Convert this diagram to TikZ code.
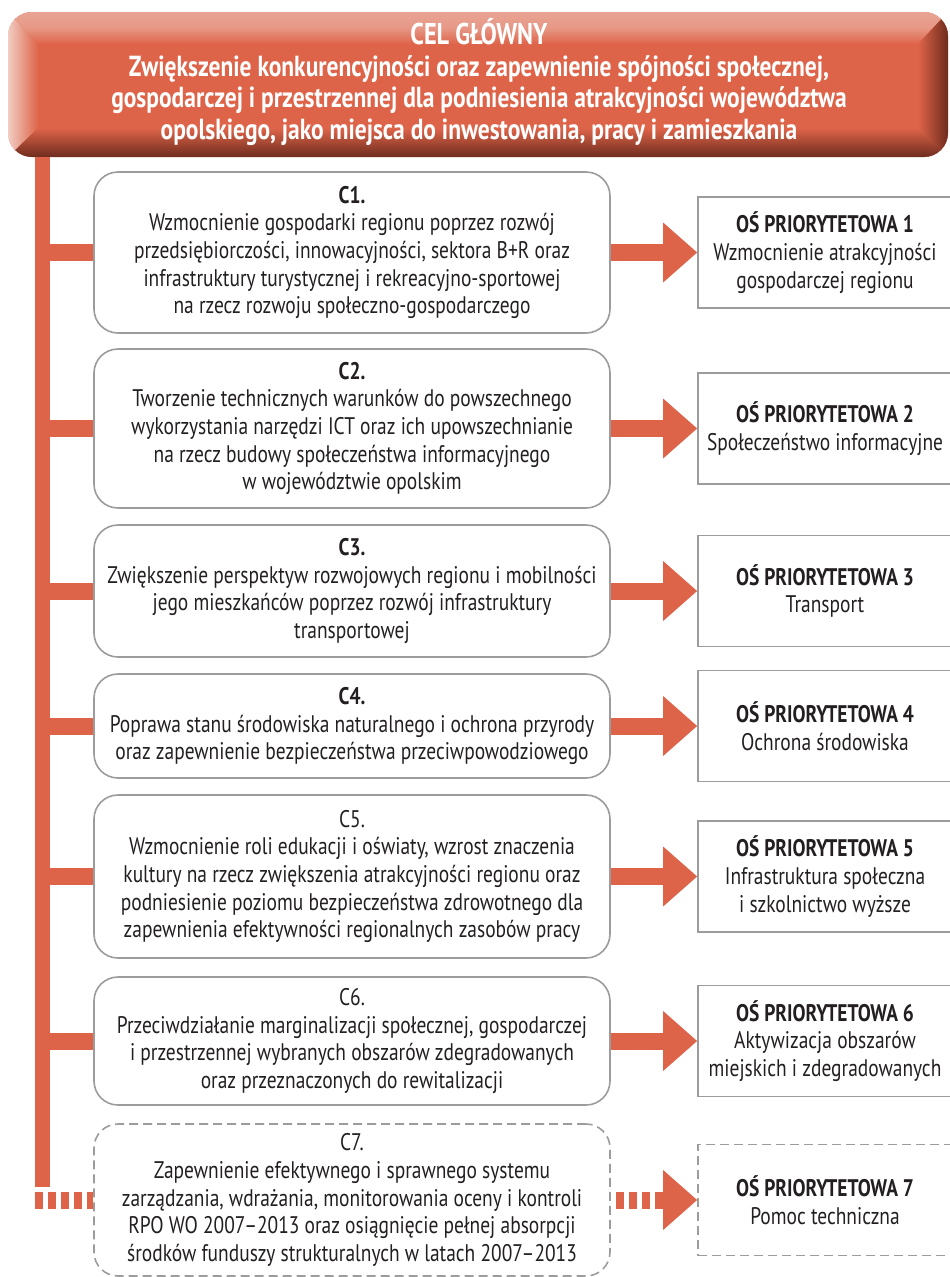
\documentclass[tikz,border=0pt]{standalone}
\usepackage{fontspec}
\setmainfont{PT Sans}[FakeStretch=0.81]
\usetikzlibrary{arrows.meta}

\definecolor{accent}{HTML}{DE6449}
\definecolor{accentlight}{HTML}{E9A494}
\definecolor{accentpale}{HTML}{F1CDC3}
\definecolor{accentdark}{HTML}{6E2C1E}
\definecolor{frame}{HTML}{9C9C9C}
\definecolor{ink}{HTML}{231F20}

\newcommand\bodysize{\fontsize{24}{27.6}\selectfont}
\newcommand\headsize{\fontsize{29}{31.5}\selectfont}

\tikzset{
  cbox/.style={draw=frame, line width=1.6pt, rounded corners=24pt, fill=white,
    minimum width=516pt, align=center, font=\bodysize, text=ink, inner sep=0pt},
  obox/.style={draw=frame, line width=1.8pt, fill=white, minimum width=254pt,
    minimum height=111pt, align=center, font=\bodysize, text=ink, inner sep=0pt},
  pending/.style={dash pattern=on 9pt off 5pt},
  link/.style={draw=accent, line width=17pt},
  gappy/.style={dash pattern=on 8.5pt off 4.5pt},
  feed/.style={draw=accent, line width=17pt,
    -{Triangle[length=34pt, width=60pt, line width=0pt]}},
}

\begin{document}
\begin{tikzpicture}[x=1pt, y=-1pt]
\useasboundingbox (0,0) rectangle (950,1277);
\fill[white] (0,0) rectangle (950,1277);

% main goal banner: bevelled button (light top and left, dark bottom and right)
\begin{scope}
  \clip[rounded corners=24pt] (8,12) rectangle (948,157);
  \fill[accent] (8,12) rectangle (948,157);
  \shade[left color=accentpale, right color=accent]
    (8,12) -- (38,44) -- (38,128) -- (8,157) -- cycle;
  \shade[top color=accentlight, bottom color=accent, middle color=accentlight!80!accent]
    (8,12) -- (948,12) -- (918,44) -- (38,44) -- cycle;
  \shade[left color=accent, right color=accentdark]
    (948,12) -- (948,157) -- (918,128) -- (918,44) -- cycle;
  \shade[top color=accent, bottom color=accentdark]
    (8,157) -- (38,128) -- (918,128) -- (948,157) -- cycle;
\end{scope}
\node[font=\headsize\bfseries, text=white, align=center, inner sep=0pt] (goal) at (479,82)
  {{\fontsize{30}{31.5}\selectfont CEL GŁÓWNY}\\
   Zwiększenie konkurencyjności oraz zapewnienie spójności społecznej,\\
   gospodarczej i przestrzennej dla podniesienia atrakcyjności województwa\\
   opolskiego, jako miejsca do inwestowania, pracy i zamieszkania};

% spine
\coordinate (spinetop) at (42.5,157);
\coordinate (spinebot) at (42.5,1187);
\draw[accent, line width=15pt] (spinetop) -- (spinebot);

% objectives
\node[cbox, minimum height=161pt] (c1) at (352,252.5)
  {\textbf{C1.}\\
   Wzmocnienie gospodarki regionu poprzez rozwój\\
   przedsiębiorczości, innowacyjności, sektora B+R oraz\\
   infrastruktury turystycznej i rekreacyjno-sportowej\\
   na rzecz rozwoju społeczno-gospodarczego};
\node[cbox, minimum height=159pt] (c2) at (352,428.5)
  {\textbf{C2.}\\
   Tworzenie technicznych warunków do powszechnego\\
   wykorzystania narzędzi ICT oraz ich upowszechnianie\\
   na rzecz budowy społeczeństwa informacyjnego\\
   w województwie opolskim};
\node[cbox, minimum height=132pt] (c3) at (352,591)
  {\textbf{C3.}\\
   Zwiększenie perspektyw rozwojowych regionu i mobilności\\
   jego mieszkańców poprzez rozwój infrastruktury\\
   transportowej};
\node[cbox, minimum height=104pt] (c4) at (352,726)
  {\textbf{C4.}\\
   Poprawa stanu środowiska naturalnego i ochrona przyrody\\
   oraz zapewnienie bezpieczeństwa przeciwpowodziowego};
\node[cbox, minimum height=163pt] (c5) at (352,876.5)
  {C5.\\
   Wzmocnienie roli edukacji i oświaty, wzrost znaczenia\\
   kultury na rzecz zwiększenia atrakcyjności regionu oraz\\
   podniesienie poziomu bezpieczeństwa zdrowotnego dla\\
   zapewnienia efektywności regionalnych zasobów pracy};
\node[cbox, minimum height=128pt] (c6) at (352,1041)
  {C6.\\
   Przeciwdziałanie marginalizacji społecznej, gospodarczej\\
   i przestrzennej wybranych obszarów zdegradowanych\\
   oraz przeznaczonych do rewitalizacji};
\node[cbox, pending, minimum height=152pt] (c7) at (352,1200)
  {C7.\\
   Zapewnienie efektywnego i sprawnego systemu\\
   zarządzania, wdrażania, monitorowania oceny i kontroli\\
   RPO WO 2007–2013 oraz osiągnięcie pełnej absorpcji\\
   środków funduszy strukturalnych w latach 2007–2013};

% priority axes
\node[obox] (o1) at (825,252.5)
  {\textbf{OŚ PRIORYTETOWA 1}\\ Wzmocnienie atrakcyjności\\ gospodarczej regionu};
\node[obox] (o2) at (825,428.5)
  {\textbf{OŚ PRIORYTETOWA 2}\\ Społeczeństwo informacyjne};
\node[obox] (o3) at (825,591)
  {\textbf{OŚ PRIORYTETOWA 3}\\ Transport};
\node[obox] (o4) at (825,726)
  {\textbf{OŚ PRIORYTETOWA 4}\\ Ochrona środowiska};
\node[obox] (o5) at (825,876.5)
  {\textbf{OŚ PRIORYTETOWA 5}\\ Infrastruktura społeczna\\ i szkolnictwo wyższe};
\node[obox] (o6) at (825,1041)
  {\textbf{OŚ PRIORYTETOWA 6}\\ Aktywizacja obszarów\\ miejskich i zdegradowanych};
\node[obox, pending] (o7) at (825,1200)
  {\textbf{OŚ PRIORYTETOWA 7}\\ Pomoc techniczna};

% branches from the spine
\foreach \n in {c1,c2,c3,c4,c5,c6}
  \draw[link] (spinetop |- \n.west) -- (\n.west);
\draw[link, gappy] ([xshift=-8pt]spinebot |- c7.west) -- (c7.west);

% arrows to the priority axes
\foreach \k in {1,...,6}
  \draw[feed] (c\k.east) -- (o\k.west);
\draw[feed, gappy] ([xshift=5pt]c7.east) -- (o7.west);
\end{tikzpicture}
\end{document}
